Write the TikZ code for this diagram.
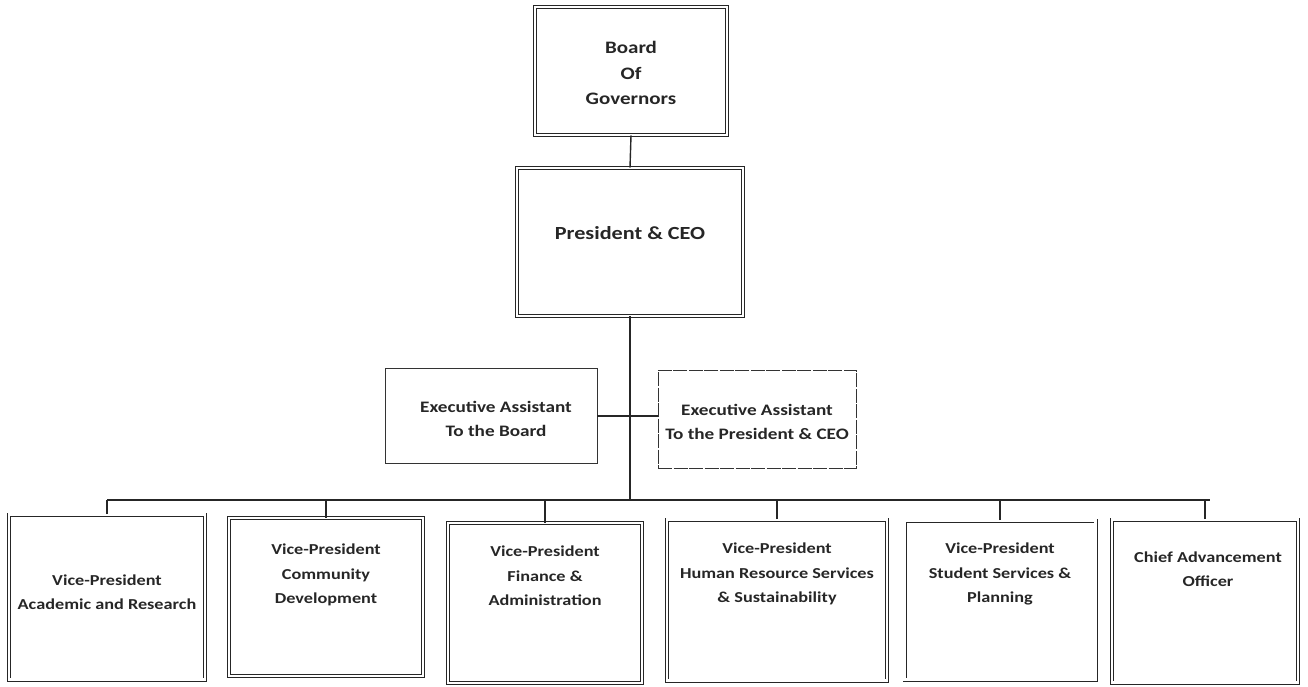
\documentclass[tikz,border=0pt]{standalone}
\usepackage{fontspec}
\setmainfont{Carlito}[FakeStretch=1.2]
\begin{document}
\begin{tikzpicture}[x=1pt,y=-1pt,
  every node/.style={text=black!85, align=center, inner sep=0pt},
  lbl/.style={font=\bfseries\fontsize{15.2}{24.5}\selectfont},
  dbox/.style={draw=black!85, double, double distance=2.2pt, line width=0.9pt},
  sbox/.style={draw=black!80, line width=0.7pt},
  conn/.style={draw=black!85, line width=1.4pt}]
\useasboundingbox (0,0) rectangle (1308,686);
% boxes
\node[dbox, minimum width=192, minimum height=128] (board) at (631,71) {};
\node[dbox, minimum width=226, minimum height=148] (pres) at (630,242) {};
\node[sbox, minimum width=212, minimum height=95] (eab) at (491,416) {};
\node[sbox, dash pattern=on 14pt off 1.5pt, minimum width=198, minimum height=98] (eap) at (757,419) {};
\node[dbox, minimum width=196, minimum height=165] (vp1) at (107,597) {};
\node[dbox, minimum width=194, minimum height=158] (vp2) at (326,597) {};
\node[dbox, minimum width=194, minimum height=160] (vp3) at (545,603) {};
\node[dbox, minimum width=220, minimum height=161] (vp4) at (777,600) {};
\node[dbox, minimum width=191, minimum height=159] (vp5) at (1000,600) {};
\node[dbox, minimum width=186, minimum height=163] (vp6) at (1205,601) {};
% texts
\node[font=\bfseries\fontsize{17.5}{25.5}\selectfont] (tboard) at (631,73) {Board\\Of\\Governors};
\node[font=\bfseries\fontsize{18.5}{24}\selectfont] (tpres) at (630,233) {President \& CEO};
\node[font=\bfseries\fontsize{16}{24}\selectfont] (teab) at (496,419) {Executive Assistant\\To the Board};
\node[font=\bfseries\fontsize{16}{24}\selectfont] (teap) at (757,422) {Executive Assistant\\To the President \& CEO};
\node[lbl] (t1) at (107,592) {Vice-President\\Academic and Research};
\node[lbl] (t2) at (326,575) {Vice-President\\Community\\Development};
\node[lbl] (t3) at (545,576) {Vice-President\\Finance \&\\Administration};
\node[lbl] (t4) at (777,574) {Vice-President\\Human Resource Services\\\& Sustainability};
\node[lbl] (t5) at (1000,574) {Vice-President\\Student Services \&\\Planning};
\node[lbl] (t6) at (1208,569) {Chief Advancement\\Officer};
% connectors
\coordinate (barL) at (107,500);
\coordinate (barR) at (1210,500);
\coordinate (barM) at (630,500);
\draw[conn] (board.south) -- (pres.north);
\draw[conn] (pres.south) -- (barM);
\draw[conn] (eab.east) -- (eap.west |- eab.east);
\draw[conn] (barL) -- (barR);
\foreach \n in {vp1,vp2,vp3,vp4,vp5,vp6} {
  \draw[conn] (\n.north) -- (\n.north |- barL);
}
\end{tikzpicture}
\end{document}
